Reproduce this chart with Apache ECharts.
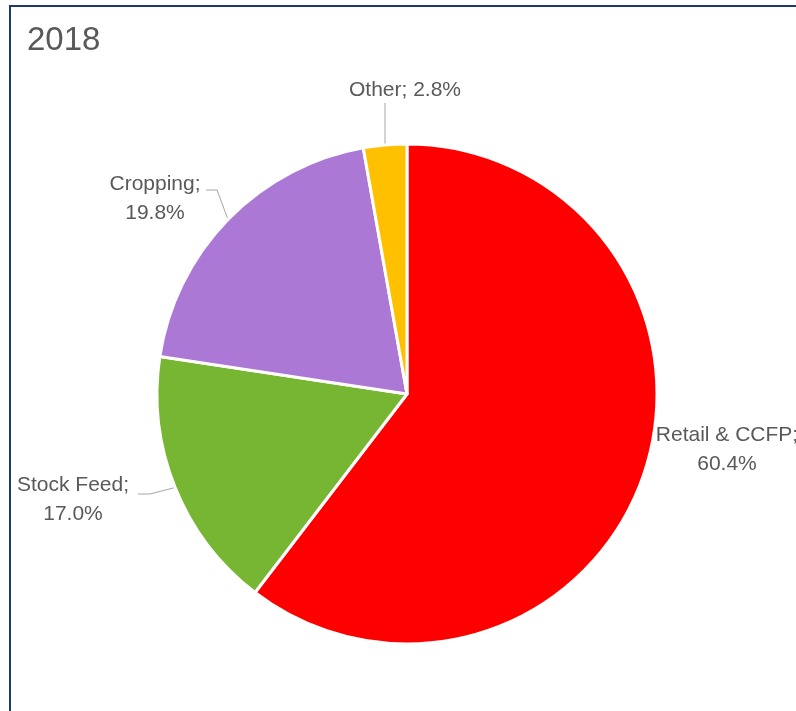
<!DOCTYPE html>
<html>
<head>
<meta charset="utf-8">
<script src="https://cdn.jsdelivr.net/npm/echarts@6/dist/echarts.min.js"></script>
<style>
  html, body { margin: 0; padding: 0; background: #fff; }
  #chart { width: 796px; height: 711px; }
</style>
</head>
<body>
<div id="chart"></div>
<script>
// Share of usage by segment, 2018
const categories = ['Retail & CCFP', 'Stock Feed', 'Cropping', 'Other'];
const shares = [60.4, 17.0, 19.8, 2.8];
const sliceColors = ['#FF0000', '#77B632', '#AC78D5', '#FFC000'];

// Where each label sits, and the bend of its leader line (pixels)
const labelSpots = {
  'Retail & CCFP': { x: 727, y: 450, bend: null },
  'Stock Feed':    { x: 73,  y: 500, bend: [[150, 494], [138, 494]] },
  'Cropping':      { x: 155, y: 199, bend: [[217, 190], [206, 190]] },
  'Other':         { x: 405, y: 90,  bend: [[385, 103]] }
};

const chart = echarts.init(document.getElementById('chart'), null, { renderer: 'canvas' });

const option = {
  animation: false,
  backgroundColor: '#ffffff',
  title: {
    text: '2018',
    left: 22,
    top: 19,
    textStyle: { fontFamily: 'Liberation Sans', fontSize: 33, fontWeight: 'normal', color: '#595959' }
  },
  graphic: [{
    type: 'rect',
    shape: { x: 10, y: 6, width: 900, height: 900 },
    style: { fill: 'none', stroke: '#1F3870', lineWidth: 2 },
    silent: true
  }],
  series: [{
    type: 'pie',
    center: [407, 394],
    radius: ['0%', 250],
    startAngle: 90,
    clockwise: true,
    data: categories.map((name, i) => ({
      name,
      value: shares[i],
      itemStyle: { color: sliceColors[i] },
      labelLine: { show: labelSpots[name].bend !== null }
    })),
    itemStyle: { borderColor: '#ffffff', borderWidth: 3 },
    label: {
      show: true,
      position: 'outside',
      overflow: 'none',
      formatter: p => {
        const pct = p.value.toFixed(1) + '%';
        return p.name === 'Other' ? p.name + '; ' + pct : p.name + ';\n' + pct;
      },
      fontFamily: 'Liberation Sans',
      fontSize: 21,
      lineHeight: 29,
      color: '#595959',
      align: 'center'
    },
    labelLine: {
      show: true,
      length: 10,
      length2: 10,
      lineStyle: { color: '#A6A6A6', width: 1 }
    },
    labelLayout: params => {
      const name = categories[params.dataIndex];
      const spot = labelSpots[name];
      const out = { x: spot.x, y: spot.y, align: 'center', verticalAlign: 'middle', width: 200 };
      if (spot.bend && params.labelLinePoints) {
        out.labelLinePoints = [params.labelLinePoints[0]].concat(spot.bend);
      }
      return out;
    }
  }]
};

chart.setOption(option);
</script>
</body>
</html>
